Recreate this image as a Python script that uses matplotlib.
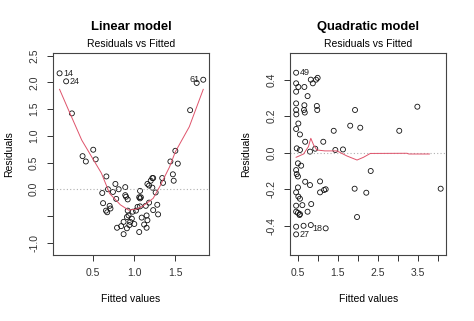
import matplotlib
matplotlib.use("Agg")
import matplotlib.pyplot as plt

plt.rcParams['font.family'] = ['Liberation Sans', 'DejaVu Sans']

# Linear model: fitted values vs residuals
lin_fitted = [0.09, 0.17, 0.24, 0.37, 0.41, 0.50, 0.53, 0.61, 0.62, 0.655,
              0.66, 0.67, 0.68, 0.70, 0.71, 0.74, 0.77, 0.78, 0.79, 0.81,
              0.84, 0.87, 0.87, 0.89, 0.89, 0.90, 0.91, 0.91, 0.92, 0.92,
              0.93, 0.94, 0.95, 0.97, 0.98, 1.00, 1.02, 1.04, 1.06, 1.06,
              1.07, 1.07, 1.07, 1.08, 1.09, 1.12, 1.14, 1.15, 1.15, 1.16,
              1.16, 1.18, 1.18, 1.20, 1.22, 1.22, 1.23, 1.23, 1.26, 1.28,
              1.29, 1.34, 1.35, 1.44, 1.47, 1.48, 1.50, 1.53, 1.68, 1.76, 1.84]
lin_resid = [2.17, 2.02, 1.42, 0.62, 0.52, 0.74, 0.56, -0.07, -0.26, -0.40,
             0.24, -0.43, 0.00, -0.31, -0.36, -0.05, 0.10, -0.18, -0.72, 0.00,
             -0.69, -0.61, -0.84, 0.04, -0.11, -0.14, -0.52, -0.73, -0.19, -0.40,
             -0.49, -0.67, -0.61, -0.55, -0.42, -0.65, -0.40, -0.33, -0.80, -0.15,
             -0.03, -0.17, -0.32, -0.15, -0.53, -0.66, -0.31, -0.49, -0.72, -0.58,
             0.10, 0.07, -0.25, 0.16, 0.03, 0.21, 0.21, -0.39, -0.06, -0.29,
             -0.47, 0.21, 0.12, 0.52, 0.28, 0.16, 0.72, 0.48, 1.48, 1.99, 2.05]
# smoother (red line)
lin_smooth_x = [0.09, 0.20, 0.36, 0.48, 0.60, 0.70, 0.83, 0.93, 1.03, 1.10,
                1.23, 1.31, 1.43, 1.50, 1.67, 1.84]
lin_smooth_y = [1.87, 1.48, 0.92, 0.61, 0.30, -0.08, -0.29, -0.39, -0.37, -0.32,
                -0.17, 0.05, 0.42, 0.70, 1.17, 1.87]
# labelled points: (index, label, side)
lin_labels = [(0, "14", "right"), (1, "24", "right"), (70, "61", "left")]

# Quadratic model
quad_fitted = [0.465, 0.465, 0.52, 0.465, 0.67, 0.75, 0.83, 0.88, 0.96, 1.00,
               0.465, 0.465, 0.47, 0.67, 0.66, 0.68, 0.98, 0.99, 0.465, 0.52,
               0.56, 0.48, 0.56, 0.69, 0.81, 0.94, 1.14, 1.40, 1.44, 1.63,
               1.81, 1.93, 2.06, 3.03, 3.48, 0.51, 0.59, 0.465, 0.48, 0.51,
               0.69, 0.81, 1.06, 1.06, 1.16, 1.20, 0.51, 0.465, 0.52, 0.56,
               0.465, 0.62, 0.84, 0.465, 0.51, 0.55, 0.56, 0.75, 0.465, 0.65,
               0.83, 1.20, 0.465, 1.92, 1.98, 2.21, 2.32, 4.06]
quad_resid = [0.438, 0.38, 0.36, 0.334, 0.36, 0.31, 0.40, 0.38, 0.40, 0.41,
              0.27, 0.234, 0.21, 0.26, 0.234, 0.22, 0.256, 0.234, 0.13, 0.16,
              0.10, 0.024, 0.015, 0.06, 0.006, 0.022, 0.06, 0.12, 0.015, 0.018,
              0.148, 0.234, 0.137, 0.12, 0.252, -0.058, -0.071, -0.095, -0.117, -0.13,
              -0.159, -0.177, -0.157, -0.217, -0.204, -0.20, -0.19, -0.217, -0.24, -0.252,
              -0.29, -0.287, -0.281, -0.323, -0.329, -0.341, -0.336, -0.323, -0.405, -0.40,
              -0.396, -0.414, -0.447, -0.197, -0.352, -0.219, -0.10, -0.197]
quad_smooth_x = [0.465, 0.65, 0.77, 0.83, 0.90, 0.98, 1.18, 1.48, 1.73, 1.98,
                 2.14, 2.31, 3.22, 3.27, 3.78]
quad_smooth_y = [-0.025, -0.007, 0.033, 0.079, 0.042, 0.015, 0.01, 0.01, -0.018, -0.04,
                 -0.025, -0.004, -0.003, -0.007, -0.007]
quad_labels = [(0, "49", "right"), (62, "27", "right"), (61, "18", "left")]

W, H = 474, 321
fig = plt.figure(figsize=(W / 100, H / 100), dpi=100)


def panel(left_px, fitted, resid, sx, sy, labels, xlim, ylim, xticks, xlabels,
          yticks, ylabels, title):
    ax = fig.add_axes([left_px / W, 1 - 255 / H, 156 / W, 202 / H])
    ax.axhline(0, color="#b0b0b0", lw=0.8, ls=(0, (1, 2)))
    ax.scatter(fitted, resid, s=13, facecolors="none", edgecolors="#111111", linewidths=0.6)
    ax.plot(sx, sy, color="#DF536B", lw=0.7)
    for i, txt, side in labels:
        off = 2.5 if side == "right" else -2.5
        ax.annotate(txt, (fitted[i], resid[i]), xytext=(off, 0), textcoords="offset points",
                    ha="left" if side == "right" else "right", va="center",
                    fontsize=6.5, color="#222222")
    ax.set_xlim(xlim)
    ax.set_ylim(ylim)
    ax.set_xticks(xticks)
    ax.set_xticklabels(xlabels)
    ax.set_yticks(yticks)
    ax.set_yticklabels(ylabels, rotation=90, va="center")
    ax.tick_params(length=4, width=0.7, labelsize=7.5, colors="#333333", pad=5)
    ax.tick_params(axis="y", pad=6)
    for s in ax.spines.values():
        s.set_color("#444444")
        s.set_linewidth(0.8)
    ax.set_xlabel("Fitted values", fontsize=7.5, labelpad=12)
    ax.set_ylabel("Residuals", fontsize=7.5, labelpad=11)
    cx = (left_px + 78) / W
    fig.text(cx, 1 - 27 / H, title, ha="center", va="center", fontsize=9.4, fontweight="bold")
    fig.text(cx, 1 - 43.7 / H, "Residuals vs Fitted", ha="center", va="center", fontsize=7.5)
    return ax


panel(53, lin_fitted, lin_resid, lin_smooth_x, lin_smooth_y, lin_labels,
      (0.01, 1.91), (-1.23, 2.55), [0.5, 1.0, 1.5], ["0.5", "1.0", "1.5"],
      [-1.0, -0.5, 0.0, 0.5, 1.0, 1.5, 2.0, 2.5],
      ["-1.0", "", "0.0", "0.5", "1.0", "1.5", "2.0", "2.5"], "Linear model")
panel(290.3, quad_fitted, quad_resid, quad_smooth_x, quad_smooth_y, quad_labels,
      (0.32, 4.2), (-0.56, 0.546), [0.5, 1.0, 1.5, 2.0, 2.5, 3.0, 3.5, 4.0],
      ["0.5", "", "1.5", "", "2.5", "", "3.5", ""],
      [-0.4, -0.2, 0.0, 0.2, 0.4], ["-0.4", "-0.2", "0.0", "0.2", "0.4"], "Quadratic model")

fig.savefig("out.png", dpi=100)
